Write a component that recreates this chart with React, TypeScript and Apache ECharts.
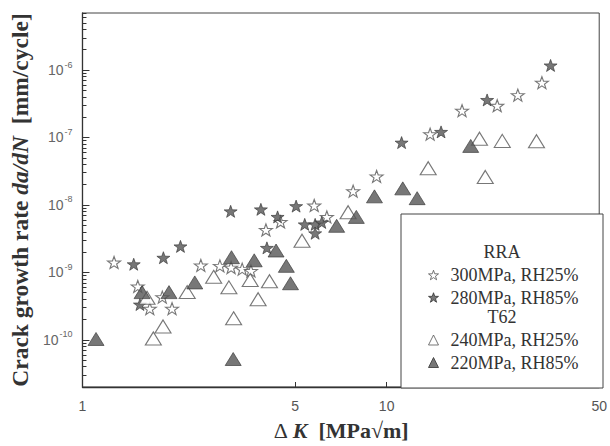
import React, { useEffect, useRef } from "react";
import * as echarts from "echarts";

// ---- data (ΔK in MPa√m, da/dN in mm/cycle) ----
const rra300K = [1.27, 1.52, 1.665, 1.83, 1.97, 2.45, 2.83, 3.08, 3.35, 3.58, 4.01, 4.48, 5.78, 6.36, 7.76, 9.27, 13.9, 17.7, 23.1, 27.0, 32.4];
const rra300R = [1.4e-9, 6.2e-10, 2.9e-10, 4.3e-10, 2.9e-10, 1.27e-9, 1.25e-9, 1.18e-9, 1.12e-9, 1.05e-9, 4.26e-9, 5.6e-9, 9.8e-9, 6.65e-9, 1.6e-8, 2.65e-8, 1.12e-7, 2.5e-7, 2.95e-7, 4.25e-7, 6.5e-7];

const rra280K = [1.474, 1.545, 1.845, 2.1, 3.07, 3.86, 4.38, 4.04, 5.04, 5.38, 5.82, 5.82, 6.12, 11.2, 15.1, 21.4, 34.6];
const rra280R = [1.32e-9, 3.34e-10, 1.65e-9, 2.43e-9, 8.04e-9, 8.6e-9, 6.65e-9, 2.31e-9, 9.6e-9, 5.15e-9, 5.15e-9, 3.8e-9, 5.5e-9, 8.4e-8, 1.21e-7, 3.6e-7, 1.17e-6];

const t62_240K = [1.71, 1.84, 1.63, 2.21, 2.7, 3.03, 3.14, 3.56, 3.78, 4.12, 5.27, 7.47, 13.7, 20.2, 21.1, 24.0, 31.1];
const t62_240R = [1.05e-10, 1.58e-10, 4.2e-10, 5.1e-10, 8.6e-10, 6.0e-10, 2.09e-10, 7.7e-10, 4.0e-10, 7.4e-10, 2.95e-9, 7.8e-9, 3.5e-8, 9.6e-8, 2.6e-8, 8.9e-8, 8.8e-8];

const t62_220K = [1.108, 1.57, 1.925, 2.34, 3.09, 3.13, 3.67, 4.33, 4.68, 4.83, 6.85, 7.95, 9.12, 11.3, 12.6, 18.9];
const t62_220R = [1.03e-10, 5.1e-10, 5.1e-10, 7.1e-10, 1.68e-9, 5.2e-11, 1.51e-9, 2.11e-9, 1.25e-9, 6.9e-10, 4.9e-9, 6.65e-9, 1.34e-8, 1.76e-8, 1.26e-8, 7.5e-8];

// ---- axes ----
const xMin = 1;
const xMax = 50;
const yMin = 2e-11;
const yMax = 7e-6;
const xTickLabels = [1, 5, 10, 50];
const yTickExponents = [-10, -9, -8, -7, -6];
const minorMantissas = [2, 3, 4, 5, 6, 7, 8, 9];
const minorExponents = [-11, -10, -9, -8, -7, -6];

const seriesNames = ["300MPa, RH25%", "280MPa, RH85%", "240MPa, RH25%", "220MPa, RH85%"];
const groupHeaders = ["RRA", "T62"];

const STAR =
  "path://M50,0 L61.76,33.82 L97.55,34.55 L69.02,56.18 L79.39,90.45 L50,70 L20.61,90.45 L30.98,56.18 L2.45,34.55 L38.24,33.82 Z";

const lg = Math.log10;
const toPts = (xs: number[], ys: number[]) => xs.map((x, i) => [lg(x), lg(ys[i])]);

export default function App() {
  const ref = useRef<HTMLDivElement>(null);

  useEffect(() => {
    if (!ref.current) return;
    const chart = echarts.init(ref.current, null, { renderer: "svg" });

    const minorTicks: number[] = [];
    minorExponents.forEach((e) =>
      minorMantissas.forEach((m) => {
        const v = m * Math.pow(10, e);
        if (v >= yMin && v <= yMax) minorTicks.push(lg(v));
      })
    );

    const serif = "Liberation Serif";
    const sans = "Liberation Sans";
    const dark = "#555";
    const edge = "#333";

    const legendCommon = {
      orient: "vertical" as const,
      left: 428,
      itemWidth: 10,
      itemHeight: 10,
      itemGap: 4.5,
      padding: 0,
      selectedMode: false,
      itemStyle: { borderWidth: 1 },
      textStyle: { fontFamily: serif, fontSize: 18, color: "#333", lineHeight: 18, padding: [0, 0, 0, 7] },
    };

    const option: any = {
      animation: false,
      backgroundColor: "#fff",
      grid: {
        left: 79,
        right: 7,
        top: 13,
        bottom: 52,
        show: true,
        borderColor: "#444",
        borderWidth: 1,
      },
      xAxis: {
        type: "value",
        min: lg(xMin),
        max: lg(xMax),
        splitLine: { show: false },
        axisLine: { onZero: false, lineStyle: { color: edge, width: 1.3 } },
        axisTick: {
          inside: true,
          length: 5,
          customValues: xTickLabels.map(lg),
          lineStyle: { color: edge },
        },
        axisLabel: {
          customValues: xTickLabels.map(lg),
          formatter: (v: number) => String(Math.round(Math.pow(10, v))),
          color: "#555",
          fontFamily: sans,
          fontSize: 14,
          margin: 12,
        },
        name: "{d|Δ }{k|K}{n|  [MPa√m]}",
        nameLocation: "middle",
        nameGap: 32,
        nameTextStyle: {
          rich: {
            d: { fontFamily: serif, fontSize: 22, color: "#333" },
            n: { fontFamily: serif, fontSize: 22, fontWeight: "bold", color: "#333" },
            k: { fontFamily: serif, fontSize: 22, fontWeight: "bold", fontStyle: "italic", color: "#333" },
          },
        },
      },
      yAxis: [
        {
          type: "value",
          min: lg(yMin),
          max: lg(yMax),
          splitLine: { show: false },
          axisLine: { onZero: false, lineStyle: { color: edge, width: 1.3 } },
          axisTick: {
            inside: true,
            length: 7,
            customValues: yTickExponents,
            lineStyle: { color: edge },
          },
          axisLabel: {
            customValues: yTickExponents,
            formatter: (v: number) => `{b|10}{s|-${Math.abs(Math.round(v))}}`,
            margin: 10,
            rich: {
              b: { fontFamily: sans, fontSize: 14, color: "#666", lineHeight: 20 },
              s: { fontFamily: sans, fontSize: 9, color: "#666", verticalAlign: "top", padding: [0, 0, 0, 1] },
            },
          },
          name: "{n|Crack growth rate }{i|da/dN}{n|  [mm/cycle]}",
          nameLocation: "middle",
          nameGap: 47,
          nameTextStyle: {
            rich: {
              n: { fontFamily: serif, fontSize: 23.5, fontWeight: "bold", color: "#333" },
              i: { fontFamily: serif, fontSize: 23.5, fontWeight: "bold", fontStyle: "italic", color: "#333" },
            },
          },
        },
        {
          type: "value",
          position: "left",
          min: lg(yMin),
          max: lg(yMax),
          splitLine: { show: false },
          axisLine: { show: false },
          axisTick: {
            inside: true,
            length: 4,
            customValues: minorTicks,
            lineStyle: { color: edge },
          },
          axisLabel: { show: false },
        },
      ],
      legend: [
        { ...legendCommon, top: 266, data: [seriesNames[0], seriesNames[1]] },
        { ...legendCommon, top: 331, data: [seriesNames[2], seriesNames[3]] },
      ],
      graphic: [
        {
          type: "rect",
          z: 3,
          shape: { x: 401, y: 214, width: 202, height: 174 },
          style: { fill: "#fff", stroke: "#444", lineWidth: 1 },
        },
        {
          type: "text",
          z: 5,
          x: 502,
          y: 252,
          style: { text: groupHeaders[0], fontFamily: serif, fontSize: 18, fill: "#333", align: "center", verticalAlign: "middle" },
        },
        {
          type: "text",
          z: 5,
          x: 502,
          y: 317,
          style: { text: groupHeaders[1], fontFamily: serif, fontSize: 18, fill: "#333", align: "center", verticalAlign: "middle" },
        },
      ],
      series: [
        {
          name: seriesNames[0],
          type: "scatter",
          symbol: STAR,
          symbolSize: [13, 12],
          itemStyle: { color: "#fff", borderColor: dark, borderWidth: 1.1 },
          data: toPts(rra300K, rra300R),
        },
        {
          name: seriesNames[1],
          type: "scatter",
          symbol: STAR,
          symbolSize: [13, 12],
          itemStyle: { color: dark, borderColor: edge, borderWidth: 0.8 },
          data: toPts(rra280K, rra280R),
        },
        {
          name: seriesNames[2],
          type: "scatter",
          symbol: "triangle",
          symbolSize: [16, 13],
          itemStyle: { color: "#fff", borderColor: dark, borderWidth: 1.1 },
          data: toPts(t62_240K, t62_240R),
        },
        {
          name: seriesNames[3],
          type: "scatter",
          symbol: "triangle",
          symbolSize: [16, 13],
          itemStyle: { color: dark, borderColor: edge, borderWidth: 0.8 },
          data: toPts(t62_220K, t62_220R),
        },
      ],
    };

    chart.setOption(option);
    return () => chart.dispose();
  }, []);

  return <div ref={ref} style={{ width: 610, height: 446, position: "absolute", left: 0, top: 0 }} />;
}
